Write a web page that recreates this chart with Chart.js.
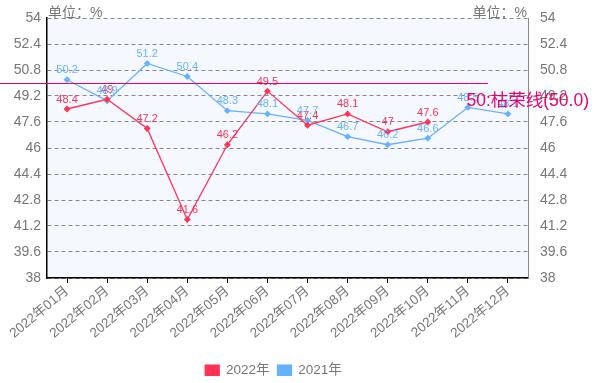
<!DOCTYPE html>
<html><head><meta charset="utf-8">
<script src="https://cdn.jsdelivr.net/npm/chart.js@4/dist/chart.umd.min.js"></script>
<style>html,body{margin:0;padding:0;background:#fff}#wrap{width:597px;height:383px}</style>
</head><body><div id="wrap"><canvas id="c" width="597" height="383"></canvas></div>
<script>
const categories = ['2022年01月','2022年02月','2022年03月','2022年04月','2022年05月','2022年06月','2022年07月','2022年08月','2022年09月','2022年10月','2022年11月','2022年12月'];
const values2022 = [48.4, 49, 47.2, 41.6, 46.2, 49.5, 47.4, 48.1, 47, 47.6, null, null];
const values2021 = [50.2, 48.9, 51.2, 50.4, 48.3, 48.1, 47.7, 46.7, 46.2, 46.6, 48.5, 48.1];
const yTicks = [38, 39.6, 41.2, 42.8, 44.4, 46, 47.6, 49.2, 50.8, 52.4, 54];
const markValue = 50;
const markLabel = '50:枯荣线(50.0)';
const unitLabel = '单位：%';

const FONT = "'Liberation Sans', 'Noto Sans CJK SC', sans-serif";
const RED = '#ff3355', BLUE = '#66b2ff', GRAY = '#777';

const setTicks = s => { s.ticks = yTicks.map(v => ({value: v})); };

const bgPlugin = {
  id: 'bg',
  beforeDraw(chart) {
    const {ctx, chartArea: a} = chart;
    ctx.save(); ctx.fillStyle = '#f5f9ff';
    ctx.fillRect(a.left, a.top, a.right - a.left, a.bottom - a.top);
    ctx.restore();
  }
};
const overlayPlugin = {
  id: 'overlay',
  afterLayout(chart) {
    const lg = chart.legend;
    lg.left -= 25; lg.right -= 25; lg.top += 4; lg.bottom += 4;
  },
  afterDatasetsDraw(chart) {
    const {ctx, chartArea: a, scales} = chart;
    ctx.save();
    // data labels
    ctx.font = '11px ' + FONT; ctx.textAlign = 'center'; ctx.textBaseline = 'bottom';
    chart.data.datasets.forEach((ds, i) => {
      const meta = chart.getDatasetMeta(i);
      ctx.fillStyle = ds.borderColor;
      meta.data.forEach((pt, j) => {
        const v = ds.data[j];
        if (v === null || v === undefined) return;
        ctx.fillText(String(v), pt.x, pt.y - 4);
      });
    });
    // mark line
    const y = Math.round(scales.y.getPixelForValue(markValue)) + 0.5;
    ctx.strokeStyle = '#e8006e'; ctx.lineWidth = 1;
    ctx.beginPath(); ctx.moveTo(0, y); ctx.lineTo(a.left + (a.right - a.left) * 0.917, y); ctx.stroke();
    ctx.font = '17.5px ' + FONT; ctx.fillStyle = '#e8006e';
    ctx.textAlign = 'right'; ctx.textBaseline = 'middle';
    ctx.fillText(markLabel, chart.width - 8, y + 18);
    // unit labels
    ctx.font = '14px ' + FONT; ctx.fillStyle = GRAY; ctx.textBaseline = 'middle';
    ctx.textAlign = 'left'; ctx.fillText(unitLabel, a.left + 1, a.top - 5);
    ctx.textAlign = 'right'; ctx.fillText(unitLabel, a.right - 1, a.top - 5);
    ctx.restore();
  }
};

new Chart(document.getElementById('c'), {
  type: 'line',
  data: {
    labels: categories,
    datasets: [
      {label: '2022年', data: values2022, borderColor: RED, backgroundColor: RED, borderWidth: 1.3,
       pointRadius: 2.5, pointBackgroundColor: RED, pointBorderColor: RED, pointStyle: 'rectRot', tension: 0},
      {label: '2021年', data: values2021, borderColor: BLUE, backgroundColor: BLUE, borderWidth: 1.3,
       pointRadius: 2.5, pointBackgroundColor: BLUE, pointBorderColor: BLUE, pointStyle: 'rectRot', tension: 0}
    ]
  },
  options: {
    responsive: false, animation: false, devicePixelRatio: 1,
    layout: {padding: {top: 18, left: 0, right: 0, bottom: 0}},
    plugins: {
      tooltip: {enabled: false},
      legend: {
        position: 'bottom',
        labels: {boxWidth: 14, boxHeight: 10, padding: 8, color: GRAY, font: {family: FONT, size: 13.5}}
      }
    },
    scales: {
      x: {
        type: 'category', offset: true,
        grid: {offset: false, drawOnChartArea: false, drawTicks: true, tickLength: 5, color: '#000'},
        border: {display: true, color: '#000', width: 1.5},
        ticks: {color: GRAY, font: {family: FONT, size: 13.5}, minRotation: 40, maxRotation: 40, autoSkip: false, padding: 0},
        afterFit(s) { s.height = 383 - 278 - s.chart.legend.height; }
      },
      y: {
        position: 'left', min: 38, max: 54,
        afterBuildTicks: setTicks,
        afterFit(s) { s.width = 47; },
        grid: {color: '#888', drawTicks: false, lineWidth: 1, tickBorderDash: [4, 3]},
        border: {display: true, color: '#000', width: 1.5, dash: [4, 3]},
        ticks: {color: GRAY, font: {family: FONT, size: 14}, padding: 6, callback: v => String(v)}
      },
      y2: {
        position: 'right', min: 38, max: 54,
        afterBuildTicks: setTicks,
        afterFit(s) { s.width = 69; },
        grid: {display: false, drawOnChartArea: false},
        border: {display: true, color: '#888', width: 1, dash: [4, 3]},
        ticks: {color: GRAY, font: {family: FONT, size: 14}, padding: 4, callback: v => String(v)}
      }
    }
  },
  plugins: [bgPlugin, overlayPlugin]
});
</script></body></html>
